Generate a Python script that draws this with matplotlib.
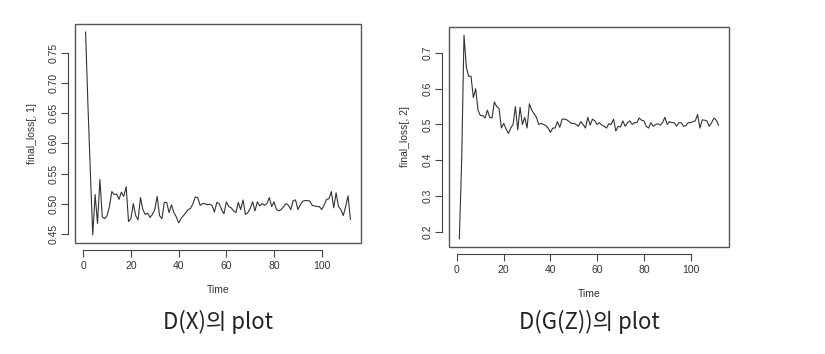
import numpy as np
import matplotlib.pyplot as plt
from matplotlib.patches import Rectangle

plt.rcParams['font.family'] = ['Liberation Sans', 'DejaVu Sans']

# D(X) loss per time step
loss_dx = [0.785, 0.662, 0.552, 0.448, 0.515, 0.467, 0.540, 0.478, 0.475, 0.480,
           0.495, 0.520, 0.515, 0.516, 0.507, 0.519, 0.512, 0.528, 0.470, 0.475,
           0.500, 0.480, 0.473, 0.510, 0.490, 0.482, 0.484, 0.477, 0.482, 0.490,
           0.512, 0.480, 0.475, 0.502, 0.502, 0.485, 0.498, 0.485, 0.478, 0.468,
           0.475, 0.480, 0.485, 0.490, 0.492, 0.500, 0.511, 0.510, 0.497, 0.500,
           0.500, 0.498, 0.499, 0.497, 0.486, 0.502, 0.500, 0.490, 0.483, 0.503,
           0.495, 0.493, 0.488, 0.485, 0.502, 0.490, 0.506, 0.482, 0.485, 0.492,
           0.503, 0.488, 0.503, 0.496, 0.500, 0.497, 0.500, 0.510, 0.495, 0.503,
           0.490, 0.488, 0.490, 0.495, 0.500, 0.497, 0.490, 0.505, 0.506, 0.490,
           0.498, 0.504, 0.505, 0.505, 0.504, 0.497, 0.496, 0.495, 0.495, 0.490,
           0.498, 0.507, 0.508, 0.520, 0.493, 0.518, 0.495, 0.490, 0.480, 0.495,
           0.513, 0.474]

# D(G(Z)) loss per time step
loss_dgz = [0.180, 0.400, 0.750, 0.660, 0.635, 0.635, 0.575, 0.600, 0.540, 0.525,
            0.525, 0.518, 0.540, 0.520, 0.518, 0.563, 0.550, 0.545, 0.490, 0.503,
            0.488, 0.475, 0.490, 0.500, 0.550, 0.485, 0.548, 0.500, 0.520, 0.490,
            0.558, 0.540, 0.530, 0.520, 0.500, 0.503, 0.500, 0.497, 0.490, 0.478,
            0.490, 0.490, 0.508, 0.492, 0.515, 0.515, 0.513, 0.508, 0.503, 0.503,
            0.500, 0.495, 0.508, 0.500, 0.490, 0.520, 0.498, 0.515, 0.510, 0.500,
            0.505, 0.498, 0.495, 0.490, 0.502, 0.500, 0.515, 0.482, 0.495, 0.493,
            0.510, 0.495, 0.505, 0.510, 0.500, 0.505, 0.505, 0.518, 0.512, 0.510,
            0.495, 0.490, 0.505, 0.495, 0.500, 0.502, 0.498, 0.505, 0.520, 0.500,
            0.508, 0.505, 0.505, 0.495, 0.505, 0.505, 0.495, 0.497, 0.505, 0.505,
            0.508, 0.510, 0.528, 0.490, 0.513, 0.512, 0.510, 0.495, 0.505, 0.518,
            0.512, 0.498]

x_ticks = [0, 20, 40, 60, 80, 100]
y_ticks_dx = [0.45, 0.50, 0.55, 0.60, 0.65, 0.70, 0.75]
y_ticks_dgz = [0.2, 0.3, 0.4, 0.5, 0.6, 0.7]

panels = [
    (loss_dx, y_ticks_dx, '%.2f', 'final_loss[, 1]', 'D(X)의 plot',
     [0.0909, 0.3136, 0.3467, 0.6186]),
    (loss_dgz, y_ticks_dgz, '%.1f', 'final_loss[, 2]', 'D(G(Z))의 plot',
     [0.5442, 0.3023, 0.3394, 0.6215]),
]

fig = plt.figure(figsize=(8.25, 3.54), dpi=100)

for vals, yt, fmt, ylab, caption, pos in panels:
    ax = fig.add_axes(pos)
    t = np.arange(1, len(vals) + 1)
    ax.plot(t, vals, color='#333333', lw=0.8)

    # R-like 4% padding
    pad_x = 0.04 * (t[-1] - t[0])
    ax.set_xlim(t[0] - pad_x, t[-1] + pad_x)
    lo, hi = min(vals), max(vals)
    pad_y = 0.04 * (hi - lo)
    ax.set_ylim(lo - pad_y, hi + pad_y)

    ax.set_xticks(x_ticks)
    ax.set_yticks(yt)
    ax.set_yticklabels([fmt % v for v in yt])

    # R style axes: detached axis lines + box
    for s in ['top', 'right']:
        ax.spines[s].set_visible(False)
    for s in ['bottom', 'left']:
        ax.spines[s].set_position(('outward', 5))
        ax.spines[s].set_color('#444444')
        ax.spines[s].set_linewidth(0.8)
    ax.spines['bottom'].set_bounds(x_ticks[0], x_ticks[-1])
    ax.spines['left'].set_bounds(yt[0], yt[-1])
    ax.add_patch(Rectangle((0, 0), 1, 1, transform=ax.transAxes, fill=False,
                           ec='#555555', lw=1.0, clip_on=False))
    ax.tick_params(direction='out', length=5, width=0.8, color='#444444',
                   labelsize=7.5, labelcolor='#333333', pad=3)
    ax.tick_params(axis='y', labelrotation=90, pad=1.5)
    for lab in ax.get_yticklabels():
        lab.set_va('center')

    ax.set_xlabel('Time', fontsize=7.5, color='#333333', labelpad=10)
    ax.set_ylabel(ylab, fontsize=7.5, color='#333333', labelpad=9)

    cx = pos[0] + pos[2] / 2
    fig.text(cx, 0.09, caption, ha='center', va='center', fontsize=16,
             fontweight='light', family=['Noto Sans CJK KR', 'DejaVu Sans'],
             color='#222222')

fig.savefig('out.png', dpi=100)
